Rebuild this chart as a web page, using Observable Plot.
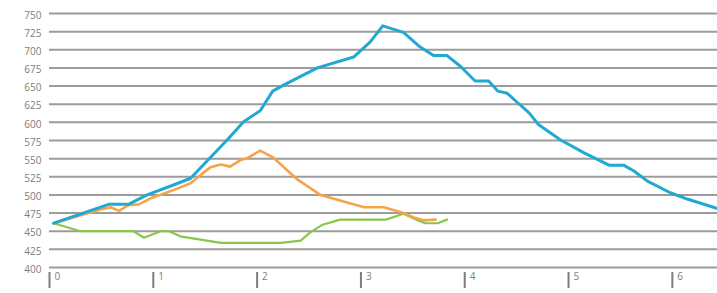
<!DOCTYPE html>
<html>
<head>
<meta charset="utf-8">
<script src="https://cdn.jsdelivr.net/npm/d3@7"></script>
<script src="https://cdn.jsdelivr.net/npm/@observablehq/plot@0.6"></script>
<style>
  html, body { margin: 0; padding: 0; background: #fff; }
  #chart svg { display: block; }
</style>
</head>
<body>
<div id="chart"></div>
<script>
const yTicks = [400, 425, 450, 475, 500, 525, 550, 575, 600, 625, 650, 675, 700, 725, 750];
const xTicks = [0, 1, 2, 3, 4, 5, 6];

const blueX = [0.04, 0.57, 0.76, 0.94, 1.20, 1.36, 1.52, 1.72, 1.87, 2.03, 2.15, 2.25, 2.58, 2.93, 3.09, 3.21, 3.41, 3.56, 3.70, 3.83, 3.96, 4.10, 4.23, 4.32, 4.41, 4.51, 4.62, 4.71, 4.92, 5.15, 5.39, 5.53, 5.63, 5.76, 5.98, 6.15, 6.44];
const blueY = [461, 487, 487, 500, 514, 523, 547, 577, 601, 616, 643, 651, 675, 690, 711, 733, 724, 705, 692, 692, 677, 657, 657, 643, 640, 627, 613, 597, 576, 558, 541, 541, 533, 519, 503, 494, 481];

const orangeX = [0.04, 0.49, 0.59, 0.67, 0.76, 0.86, 0.97, 1.20, 1.36, 1.46, 1.55, 1.65, 1.74, 1.84, 1.91, 2.03, 2.16, 2.39, 2.61, 3.03, 3.22, 3.41, 3.51, 3.60, 3.72];
const orangeY = [461, 480, 483, 478, 486, 487, 495, 507, 516, 528, 538, 542, 539, 548, 551, 561, 551, 521, 500, 483, 483, 475, 469, 465, 466];

const greenX = [0.04, 0.30, 0.81, 0.91, 1.07, 1.15, 1.26, 1.65, 2.23, 2.42, 2.51, 2.63, 2.80, 3.24, 3.41, 3.53, 3.62, 3.74, 3.83];
const greenY = [461, 450, 450, 441, 450, 450, 443, 434, 434, 437, 448, 459, 466, 466, 474, 466, 461, 461, 466];

const toRows = (xs, ys) => xs.map((x, i) => ({x, y: ys[i]}));
const blue = toRows(blueX, blueY);
const orange = toRows(orangeX, orangeY);
const green = toRows(greenX, greenY);

const chart = Plot.plot({
  width: 717,
  height: 293,
  marginLeft: 49,
  marginRight: 0,
  marginTop: 13,
  marginBottom: 26,
  style: {fontFamily: "'Open Sans', sans-serif", fontSize: "10px", color: "#7a7a7a", background: "#fff"},
  x: {domain: [0, 6.435], axis: null},
  y: {domain: [400, 750], axis: null},
  marks: [
    Plot.ruleY(yTicks, {stroke: "#9c9c9c", strokeWidth: 2}),
    Plot.axisY(yTicks, {tickSize: 0, tickPadding: 8, dy: 2, tickFormat: d => String(d), fill: "#7d7d7d", label: null}),
    Plot.axisX(xTicks, {tickSize: 16, tickFormat: () => "", stroke: "#7d7d7d", strokeWidth: 2, label: null, dy: 5}),
    Plot.axisX(xTicks, {tickSize: 0, tickPadding: 5, textAnchor: "start", dx: 5, fill: "#7d7d7d", tickFormat: d => String(d), label: null}),
    Plot.line(green, {x: "x", y: "y", stroke: "#8cc54c", strokeWidth: 2.2, curve: "linear"}),
    Plot.line(orange, {x: "x", y: "y", stroke: "#f6a44c", strokeWidth: 2.6, curve: "linear"}),
    Plot.line(blue, {x: "x", y: "y", stroke: "#22a9d2", strokeWidth: 3, curve: "linear"})
  ]
});
document.getElementById("chart").appendChild(chart);
</script>
</body>
</html>
